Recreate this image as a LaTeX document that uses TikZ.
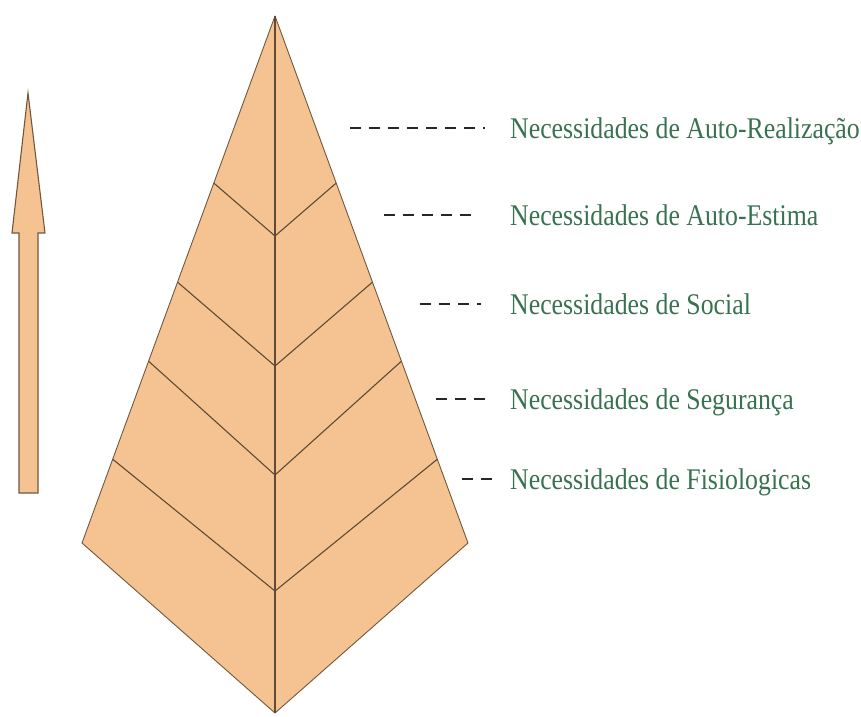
\documentclass[tikz,border=0pt]{standalone}
\usepackage{fontspec}
\usepackage{tikz}
\usetikzlibrary{calc}
\newfontfamily\lblfont[FakeStretch=0.86]{Liberation Serif}
\definecolor{cPeach}{RGB}{244,195,145}
\definecolor{cEdge}{RGB}{112,88,62}
\definecolor{cLabel}{RGB}{56,114,80}
\tikzset{
	layer/.style    ={fill=cPeach, draw=cEdge, line width=0.9pt, line join=round},
	divider/.style  ={draw=cEdge!85!black, line width=1.1pt},
	uparrow/.style  ={fill=cPeach, draw=cEdge, line width=1.1pt, line join=miter},
	lbl/.style      ={anchor=west, inner sep=0pt, text height=20pt, text depth=0pt, text=cLabel, font=\lblfont\fontsize{30}{36}\selectfont},
	dashline/.style ={black!85, line width=2.4pt, dash pattern=on 11pt off 8pt},
}
\begin{document}
\begin{tikzpicture}[x=1pt, y=-1pt]
	\useasboundingbox (0,0) rectangle (861,716);
	% pyramid
	\coordinate (A) at (275,16); \coordinate (L) at (82,543);
	\coordinate (R) at (468,543); \coordinate (B) at (275,713);
	\path[layer] (A) -- (L) -- (B) -- (R) -- cycle;
	\draw[divider] (A) -- (B);
	\draw[divider] ($(A)!0.317!(L)$) -- (275,236) -- ($(A)!0.317!(R)$);
	\draw[divider] ($(A)!0.505!(L)$) -- (275,366) -- ($(A)!0.505!(R)$);
	\draw[divider] ($(A)!0.655!(L)$) -- (275,475) -- ($(A)!0.655!(R)$);
	\draw[divider] ($(A)!0.841!(L)$) -- (275,591) -- ($(A)!0.841!(R)$);
	% arrow
	\path[uparrow] (28,93) -- (45,233) -- (38,233) -- (38,493) -- (19,493) -- (19,233) -- (12,233) -- cycle;
	% labels
	\node[lbl] (l1) at (510,128) {Necessidades de Auto-Realização};
	\node[lbl] (l2) at (510,215) {Necessidades de Auto-Estima};
	\node[lbl] (l3) at (510,304) {Necessidades de Social};
	\node[lbl] (l4) at (510,399) {Necessidades de Segurança};
	\node[lbl] (l5) at (510,479) {Necessidades de Fisiologicas};
	\coordinate (d1) at (350,128); \coordinate (d2) at (384,215);
	\coordinate (d3) at (420,304); \coordinate (d4) at (436,399);
	\coordinate (d5) at (462,479);
	\draw[dashline] (d1) -- ([xshift=-25pt]l1.west);
	\draw[dashline] (d2) -- ([xshift=-32pt]l2.west);
	\draw[dashline] (d3) -- ([xshift=-29pt]l3.west);
	\draw[dashline] (d4) -- ([xshift=-20pt]l4.west);
	\draw[dashline] (d5) -- ([xshift=-17pt]l5.west);
\end{tikzpicture}
\end{document}
